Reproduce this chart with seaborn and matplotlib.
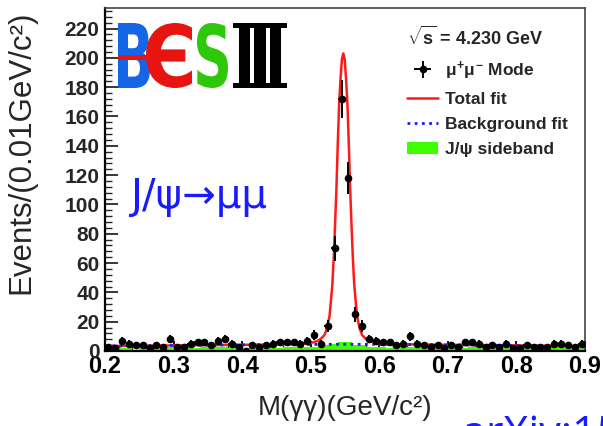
import numpy as np
import pandas as pd
import matplotlib
matplotlib.use("Agg")
import matplotlib.pyplot as plt
import seaborn as sns
from matplotlib.textpath import TextPath
from matplotlib.patches import PathPatch, Rectangle, Patch
from matplotlib.lines import Line2D
from matplotlib.font_manager import FontProperties
from matplotlib.transforms import Affine2D
from matplotlib.ticker import MultipleLocator

# ---------------- data ----------------
bin_edges = [round(0.20 + 0.01 * i, 3) for i in range(71)]
bin_centers = [round(e + 0.005, 4) for e in bin_edges[:-1]]

counts = [3, 2, 7, 5, 4, 4, 2, 4, 3, 8,
          3, 3, 5, 6, 6, 4, 7, 8, 5, 3,
          0, 4, 3, 4, 5, 6, 6, 6, 5, 7,
          11, 5, 17, 70, 172, 118, 25, 17, 8, 7,
          6, 6, 4, 5, 10, 5, 4, 3, 4, 2,
          4, 3, 6, 6, 5, 3, 4, 3, 5, 2,
          2, 4, 3, 3, 3, 5, 5, 4, 3, 5]

sideband = [2, 3, 2, 2, 1, 2, 3, 2, 2, 3,
            2, 1, 3, 2, 3, 2, 3, 3, 2, 2,
            2, 2, 3, 2, 2, 2, 3, 3, 4, 3,
            3, 4, 4, 5, 6, 6, 4, 4, 3, 3,
            3, 2, 3, 3, 3, 3, 4, 2, 2, 3,
            3, 3, 2, 3, 3, 2, 2, 2, 3, 2,
            2, 2, 3, 2, 2, 3, 3, 3, 2, 3]

fit_x = [0.20, 0.25, 0.30, 0.35, 0.40, 0.45, 0.48, 0.50, 0.51, 0.515, 0.52,
         0.5235, 0.5275, 0.5315, 0.5335, 0.5355, 0.5375, 0.5395, 0.5415,
         0.5435, 0.5455, 0.5475, 0.5495, 0.5515, 0.5535, 0.5555, 0.5575,
         0.5595, 0.5615, 0.5635, 0.5675, 0.5715, 0.575, 0.58, 0.585, 0.595,
         0.60, 0.62, 0.65, 0.70, 0.75, 0.80, 0.85, 0.90]
fit_y = [3.4, 3.6, 3.8, 4.0, 4.2, 4.4, 4.5, 5.4, 6.9, 8.4, 10.9,
         15, 24, 45, 63, 86, 111, 142, 169,
         186, 199, 203, 199, 186, 169, 142, 111,
         86, 63, 45, 24, 15, 10.9, 8.4, 6.9, 5.4,
         4.9, 4.6, 4.5, 4.2, 4.0, 3.8, 3.6, 3.4]

bkg_x = [0.20, 0.30, 0.40, 0.50, 0.55, 0.60, 0.70, 0.80, 0.90]
bkg_y = [3.4, 3.8, 4.2, 4.5, 4.6, 4.5, 4.2, 3.8, 3.4]

x_ticks = [0.2, 0.3, 0.4, 0.5, 0.6, 0.7, 0.8, 0.9]
y_ticks = list(range(0, 221, 20))

# ---------------- style ----------------
sns.set_theme(style="ticks")
plt.rcParams["font.family"] = ["Liberation Sans", "DejaVu Sans"]
plt.rcParams["mathtext.fontset"] = "custom"
plt.rcParams["mathtext.rm"] = "Liberation Sans:bold"
plt.rcParams["mathtext.it"] = "Liberation Sans:bold"
plt.rcParams["mathtext.bf"] = "Liberation Sans:bold"

W, H = 603, 426
fig = plt.figure(figsize=(W / 100, H / 100), dpi=100)
ax = fig.add_axes([105 / W, 1 - 351 / H, 480 / W, 343 / H])

green = "#3dff00"
df_side = pd.DataFrame({"m": bin_centers, "n": sideband})
sns.histplot(data=df_side, x="m", weights="n", bins=bin_edges, element="step",
             fill=True, color=green, alpha=1.0, linewidth=0, ax=ax, zorder=1)

sns.lineplot(x=fit_x, y=fit_y, color="#ff1a1a", lw=1.8, estimator=None, ax=ax, zorder=2)
sns.lineplot(x=bkg_x, y=bkg_y, color="#1a1aff", lw=2.0, linestyle=(0, (1, 1.6)),
             estimator=None, ax=ax, zorder=3)

cnt = np.array(counts, dtype=float)
eb = ax.errorbar(bin_centers, cnt, yerr=np.sqrt(cnt), xerr=0.005, fmt="o",
                 color="black", ms=4.5, elinewidth=1.4, capsize=0, zorder=5)

ax.set_xlim(0.2, 0.9)
ax.set_ylim(0, 234)
ax.set_xticks(x_ticks)
ax.set_xticklabels([f"{v:.1f}" for v in x_ticks])
ax.set_yticks(y_ticks)
ax.xaxis.set_minor_locator(MultipleLocator(0.02))
ax.yaxis.set_minor_locator(MultipleLocator(4))
ax.tick_params(axis="x", which="major", direction="in", length=7, width=1.3,
               labelsize=17, pad=3, colors="black", bottom=True, top=False)
ax.tick_params(axis="x", which="minor", direction="in", length=4, width=1.0, bottom=True, top=False)
ax.tick_params(axis="y", which="major", direction="in", length=9, width=1.3,
               labelsize=15, pad=4, left=True, right=False)
ax.tick_params(axis="y", which="minor", direction="in", length=5, width=1.0, left=True, right=False)
for lab in ax.get_yticklabels() + ax.get_xticklabels():
    lab.set_fontweight("bold")

for s in ["left", "bottom"]:
    ax.spines[s].set_linewidth(1.6)
    ax.spines[s].set_color("black")
for s in ["top", "right"]:
    ax.spines[s].set_linewidth(1.2)
    ax.spines[s].set_color("#444444")
ax.set_facecolor("white")
ax.grid(False)

ax.set_xlabel("M(γγ)(GeV/c²)", fontsize=20)
ax.set_ylabel("Events/(0.01GeV/c²)", fontsize=22.5)
ax.xaxis.set_label_coords(0.5, -0.128)
ax.yaxis.set_label_coords(-0.142, 0.58)

# legend
handles = [eb,
           Line2D([], [], color="#ff1a1a", lw=1.8),
           Line2D([], [], color="#1a1aff", lw=2.0, linestyle=(0, (1, 1.6))),
           Patch(facecolor=green, edgecolor="none")]
labels = ["$\\mu^{+}\\mu^{-}$ Mode", "Total fit", "Background fit", "J/ψ sideband"]
leg = ax.legend(handles, labels, title="$\\sqrt{\\mathrm{s}}$ = 4.230 GeV",
                loc="upper left", bbox_to_anchor=((407 - 105) / 480, (351 - 26) / 343),
                frameon=False, borderpad=0, borderaxespad=0, handlelength=1.8,
                handletextpad=0.4, labelspacing=0.58,
                prop={"weight": "bold", "size": 12.5},
                title_fontproperties={"weight": "bold", "size": 13})
leg._legend_box.align = "left"

# J/psi -> mu mu text
ax.text((130 - 105) / 480, (351 - 197) / 343, "J/ψ→μμ", color="#1a1aff",
        fontsize=29, family=["DejaVu Sans"], va="center", ha="left",
        transform=ax.transAxes)

# BESIII logo drawn from glyph outlines
def glyph(ch, x0, x1, y0, y1, color, family="DejaVu Sans", weight="bold"):
    tp = TextPath((0, 0), ch, size=1, prop=FontProperties(family=family, weight=weight))
    e = tp.get_extents()
    tr = (Affine2D().translate(-e.x0, -e.y0)
          .scale((x1 - x0) / W / e.width, (y1 - y0) / H / e.height)
          .translate(x0 / W, 1 - y1 / H) + fig.transFigure)
    fig.patches.append(PathPatch(tp, transform=tr, facecolor=color, edgecolor="none", zorder=6))

glyph("B", 118, 150, 23, 88, "#1466e6")
glyph("Є", 146, 192, 23, 88, "#e8140f")
glyph("S", 197, 228, 23, 88, "#2ec70a")
glyph("Ⅲ", 233, 287, 23, 88, "black", family="DejaVu Serif")
fig.patches.append(Rectangle((118 / W, 1 - 59.5 / H), 40 / W, 5 / H,
                             transform=fig.transFigure, facecolor="#e8140f",
                             edgecolor="none", zorder=7))

# partially visible reference label at bottom right
fig.text(462 / W, 1 - 447 / H, "arXiv:15", color="#1a1aff", fontsize=31,
         family=["Open Sans", "DejaVu Sans"], va="baseline", ha="left")

fig.savefig("out.png", dpi=100)
